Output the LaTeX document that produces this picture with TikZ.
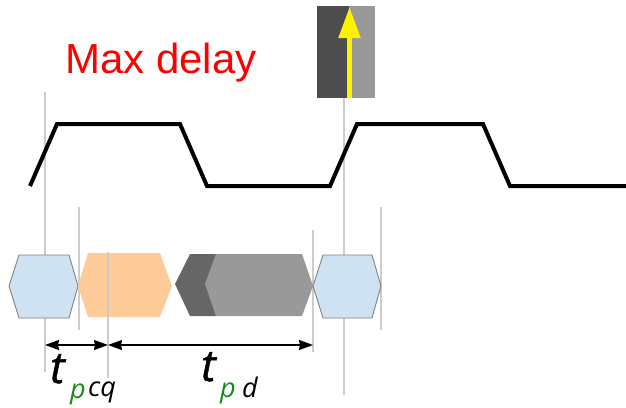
\documentclass[tikz,border=0pt]{standalone}
\usepackage{fontspec}
\setmainfont{Liberation Sans}
\newfontfamily\lblfont{Open Sans}
\newfontfamily\tfont{Open Sans}[ItalicFeatures={FakeBold=1.2}]
\usetikzlibrary{arrows.meta}
\definecolor{hexblue}{HTML}{CFE2F3}
\definecolor{hexorange}{HTML}{FFCC99}
\definecolor{hexdark}{HTML}{666666}
\definecolor{hexlight}{HTML}{999999}
\definecolor{guide}{HTML}{CCCCCC}
\definecolor{clkdark}{HTML}{4D4D4D}
\definecolor{subgreen}{HTML}{1A8A1A}
\tikzset{
  guideline/.style={draw=guide, line width=1.2},
  wave/.style={line width=4, line join=miter},
  hexblueshape/.style={fill=hexblue, draw=gray, line width=0.9},
  span/.style={line width=1.6, {Stealth[length=14,width=10,inset=1]}-{Stealth[length=14,width=10,inset=1]}},
  bigt/.style={font=\tfont\itshape\fontsize{44}{44}\selectfont, inner sep=0, anchor=base west},
  subtext/.style={font=\lblfont\itshape\fontsize{27}{27}\selectfont, inner sep=0, anchor=base west},
}
\begin{document}
\begin{tikzpicture}[x=1pt,y=-1pt]
\useasboundingbox (0,0) rectangle (626,407);

% guide lines behind the data shapes
\draw[guideline] (45,92) -- (45,372);
\draw[guideline] (79,207) -- (79,330);
\draw[guideline] (313,230) -- (313,352);
\draw[guideline] (381,207) -- (381,330);
\draw[guideline] (344,98) -- (344,395);

% title
\node[font=\fontsize{42}{42}\selectfont, text=red, anchor=base, inner sep=0] (title) at (161,73) {Max delay};

% clock edge marker
\fill[clkdark] (317,6) rectangle (349,98);
\fill[hexlight] (349,6) rectangle (375,98);
\coordinate (clkbot) at (349.5,98);
\coordinate (clktop) at (349.5,7);
\draw[yellow, line width=5, -{Triangle[length=31,width=21]}] (clkbot) -- (clktop);

% clock waveform
\draw[wave] (30,186) -- (57,124) -- (180,124) -- (207,186) -- (330,186)
  -- (357,124) -- (483,124) -- (510,186) -- (626,186);

% data valid windows
\draw[hexblueshape] (9,286) -- (19,255) -- (69,255) -- (78,286) -- (69,318) -- (19,318) -- cycle;
\fill[hexorange] (78,286) -- (88,253) -- (160,253) -- (172,286) -- (160,317) -- (88,317) -- cycle;
\fill[hexdark] (175,284) -- (190,254) -- (216,254) -- (216,316) -- (190,316) -- cycle;
\fill[hexlight] (205,284) -- (216,254) -- (302,254) -- (313,286) -- (302,316) -- (216,316) -- cycle;
\draw[hexblueshape] (313,286) -- (323,255) -- (372,255) -- (381,286) -- (372,318) -- (323,318) -- cycle;

% guide line drawn over the orange window
\draw[guideline] (108,252) -- (108,378);

% timing spans
\coordinate (a) at (45,345);
\coordinate (b) at (108,345);
\coordinate (c) at (313,345);
\draw[span] (a) -- (b);
\draw[span] (b) -- (c);

% labels
\node[bigt] (t1) at (50,383) {t};
\node[subtext, text=subgreen] (p1) at (70,398) {p};
\node[subtext] (cq1) at (88,396) {cq};
\node[bigt] (t2) at (201,381) {t};
\node[subtext, text=subgreen] (p2) at (220,397) {p};
\node[subtext] (d2) at (242,397) {d};
\end{tikzpicture}
\end{document}
